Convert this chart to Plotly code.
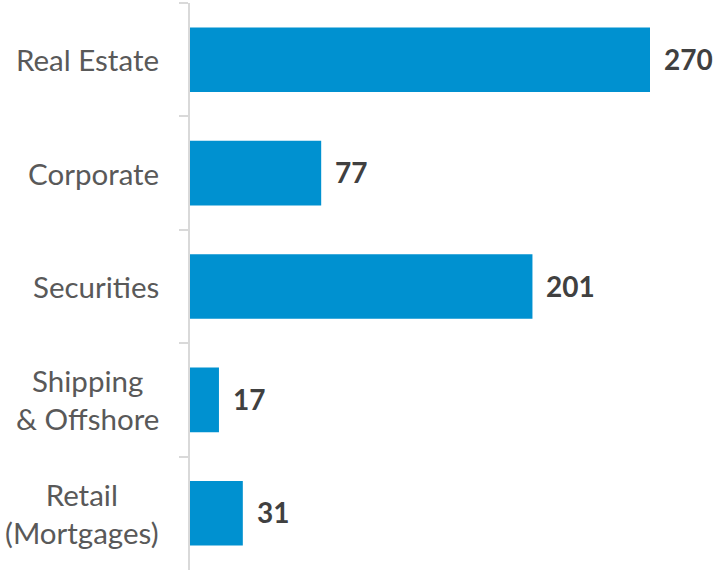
import plotly.graph_objects as go

categories = ["Real Estate", "Corporate", "Securities", "Shipping<br>& Offshore", "Retail<br>(Mortgages)"]
values = [270, 77, 201, 17, 31]
value_labels = ["270", "77", "201", "17", "31"]

BAR_COLOR = "#0091D0"
AXIS_COLOR = "#D9D9D9"
LABEL_COLOR = "#595959"
VALUE_COLOR = "#404040"
FONT = "Lato"

fig = go.Figure()
fig.add_trace(go.Bar(
    x=values,
    y=categories,
    orientation="h",
    marker=dict(color=BAR_COLOR, line=dict(width=0)),
    width=0.57,
    hoverinfo="skip",
))

annotations = []
for cat in categories:
    annotations.append(dict(
        x=0, xref="paper", y=cat, yref="y",
        text=cat, showarrow=False,
        xanchor="right", yanchor="middle", align="center",
        xshift=-29,
        font=dict(family=FONT, size=29.5, color=LABEL_COLOR),
    ))
for cat, v, lab in zip(categories, values, value_labels):
    annotations.append(dict(
        x=v, xref="x", y=cat, yref="y",
        text=lab, showarrow=False,
        xanchor="left", yanchor="middle",
        xshift=12, yshift=1,
        font=dict(family=FONT, size=28, color=VALUE_COLOR, weight="bold"),
    ))

fig.update_layout(
    width=715, height=572,
    margin=dict(l=190, r=0, t=3, b=2, autoexpand=False),
    plot_bgcolor="white", paper_bgcolor="white",
    showlegend=False,
    bargap=0.43,
    annotations=annotations,
    xaxis=dict(range=[0, 308.15], visible=False, fixedrange=True, automargin=False),
    yaxis=dict(
        categoryorder="array", categoryarray=categories,
        autorange="reversed",
        showticklabels=False, automargin=False,
        showline=True, linecolor=AXIS_COLOR, linewidth=2,
        ticks="outside", ticklen=9, tickwidth=2, tickcolor=AXIS_COLOR,
        tickson="boundaries",
        showgrid=False, zeroline=False, fixedrange=True,
    ),
)

fig.write_html(
    "out.html",
    config={"displayModeBar": False},
    post_script="document.body.style.margin='0';document.body.style.overflow='hidden';",
)
